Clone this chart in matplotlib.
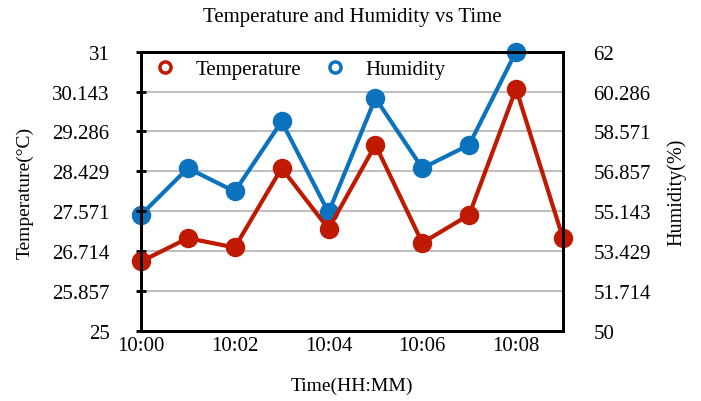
import matplotlib
matplotlib.use('Agg')
import matplotlib.pyplot as plt
from matplotlib.lines import Line2D
import numpy as np

plt.rcParams['font.family'] = ['Liberation Serif', 'DejaVu Serif']

# данные
times = ['10:00', '10:01', '10:02', '10:03', '10:04',
         '10:05', '10:06', '10:07', '10:08', '10:09']
temperature = [26.5, 27.0, 26.8, 28.5, 27.2, 29.0, 26.9, 27.5, 30.2, 27.0]
humidity = [55.0, 57.0, 56.0, 59.0, 55.1, 60.0, 57.0, 58.0, 62.0]

red = '#bf1a00'
blue = '#0b72bd'

x_t = np.arange(len(temperature))
x_h = np.arange(len(humidity))

fig = plt.figure(figsize=(7.01, 4.02), dpi=100)
ax = fig.add_axes([0.2011, 0.1729, 0.6020, 0.6965])
ax2 = ax.twinx()

# ось влажности снизу (сетка + синяя линия), температура поверх
ax2.set_zorder(1)
ax.set_zorder(2)
ax.patch.set_visible(False)

ax2.plot(x_h, humidity, color=blue, lw=3, marker='o', ms=13, clip_on=False)
ax.plot(x_t, temperature, color=red, lw=3, marker='o', ms=13, clip_on=False)

ax.set_xlim(0, 9)
ax.set_ylim(25, 31)
ax2.set_ylim(50, 62)

t_ticks = np.linspace(25, 31, 8)
h_ticks = np.linspace(50, 62, 8)
fmt = lambda v: f'{v:.3f}'.rstrip('0').rstrip('.')
ax.set_yticks(t_ticks)
ax.set_yticklabels([fmt(v) for v in t_ticks])
ax2.set_yticks(h_ticks)
ax2.set_yticklabels([fmt(v) for v in h_ticks])
ax.set_xticks(x_t[::2])
ax.set_xticklabels(times[::2])

ax2.grid(True, axis='y', color='#bfbfbf', lw=1.5)
ax2.set_axisbelow(True)

ax.tick_params(axis='y', direction='inout', length=7, width=2, pad=19, labelsize=15)
ax.tick_params(axis='x', length=0, pad=3, labelsize=15)
ax2.tick_params(axis='y', length=0, pad=22, labelsize=15)

for a in (ax, ax2):
    for s in a.spines.values():
        s.set_linewidth(2)
        s.set_color('black')

ax.set_xlabel('Time(HH:MM)', fontsize=14, labelpad=16)
ax.set_ylabel('Temperature(°C)', fontsize=14)
ax.yaxis.set_label_coords(-0.254, 0.5)
ax2.set_ylabel('Humidity(%)', fontsize=14.5)
ax2.yaxis.set_label_coords(1.246, 0.5)

fig.text(0.502, 0.957, 'Temperature and Humidity vs Time',
         ha='center', va='center', fontsize=15)

handles = [
    Line2D([], [], ls='none', marker='o', ms=8, mew=2.5, mec=red, mfc='white'),
    Line2D([], [], ls='none', marker='o', ms=8, mew=2.5, mec=blue, mfc='white'),
]
ax.legend(handles, ['Temperature', 'Humidity'], loc='upper left', ncol=2,
          frameon=False, fontsize=15, handlelength=1.0, handletextpad=0.97,
          columnspacing=1.13, borderpad=0, borderaxespad=0,
          bbox_to_anchor=(0.032, 0.971))

plt.savefig('out.png', dpi=100)
plt.close()
